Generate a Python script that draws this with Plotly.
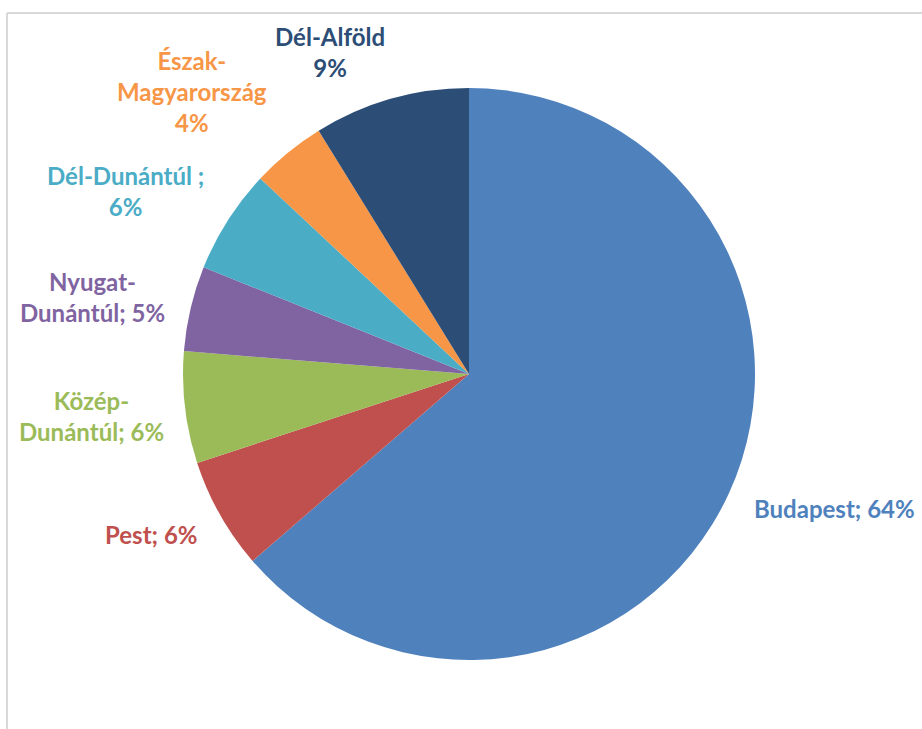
import plotly.graph_objects as go

regions = ["Budapest", "Pest", "Közép-Dunántúl", "Nyugat-Dunántúl",
           "Dél-Dunántúl", "Észak-Magyarország", "Dél-Alföld"]
values = [63.6, 6.3, 6.3, 4.8, 5.9, 4.2, 8.8]
colors = ["#4F81BD", "#C0504D", "#9BBB59", "#8064A2", "#4BACC6", "#F79646", "#2C4D75"]

# label layout text (as drawn in the chart)
label_names = ["Budapest", "Pest", "Közép-<br>Dunántúl", "Nyugat-<br>Dunántúl",
               "Dél-Dunántúl ;", "Észak-<br>Magyarország", "Dél-Alföld"]
label_seps = ["; ", "; ", "; ", "; ", "<br>", "<br>", "<br>"]
# label centres in pixels (x, y) of the 922x729 canvas
label_pos = [(834, 508), (151, 534), (91, 416), (92, 297),
             (126, 191), (192, 91), (330, 52)]

W, H = 922, 729
cx, cy, r = 469, 374, 286

fig = go.Figure(go.Pie(
    labels=regions, values=values, sort=False, direction="clockwise",
    rotation=0, marker=dict(colors=colors, line=dict(width=0)),
    textinfo="none", hoverinfo="label+percent", showlegend=False,
    domain=dict(x=[(cx - r) / W, (cx + r) / W], y=[1 - (cy + r) / H, 1 - (cy - r) / H]),
))

total = sum(values)
for name, sep, v, col, (px, py) in zip(label_names, label_seps, values, colors, label_pos):
    fig.add_annotation(
        x=px / W, y=1 - py / H, xref="paper", yref="paper",
        text=f"{name}{sep}{round(100 * v / total):d}%",
        showarrow=False, xanchor="center", yanchor="middle", align="center",
        font=dict(family="Lato", size=24, color=col, weight="bold"),
    )

# chart frame (top and left border)
fig.add_shape(type="line", xref="paper", yref="paper", x0=7 / W, x1=1.0, y0=1 - 13 / H, y1=1 - 13 / H,
              line=dict(color="#D9D9D9", width=2))
fig.add_shape(type="line", xref="paper", yref="paper", x0=7 / W, x1=7 / W, y0=0, y1=1 - 13 / H,
              line=dict(color="#D9D9D9", width=2))

fig.update_layout(width=W, height=H, margin=dict(l=0, r=0, t=0, b=0),
                  paper_bgcolor="white", plot_bgcolor="white")
fig.write_html("out.html", config={"displayModeBar": False},
               post_script="document.body.style.margin='0';")
